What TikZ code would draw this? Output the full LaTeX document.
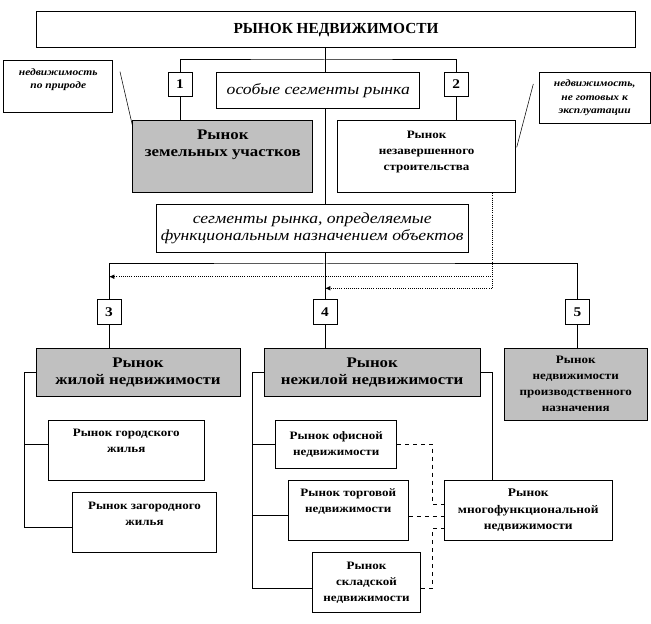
\documentclass[tikz,border=0pt]{standalone}
\usepackage{fontspec}
\setmainfont{Liberation Serif}[FakeStretch=1.15]
\newfontfamily\titlefont{Liberation Serif}
\usetikzlibrary{arrows.meta}
\definecolor{boxgray}{RGB}{192,192,192}

\tikzset{every picture/.style={line width=0.75pt}}
\tikzset{
  box/.style={draw, align=center, inner sep=1pt},
  graybox/.style={box, fill=boxgray},
  numbox/.style={box, minimum width=18pt, minimum height=18.3pt, font=\fontsize{10}{12}\selectfont\bfseries},
  notebox/.style={box, font=\fontsize{7.5}{10}\selectfont\bfseries\itshape},
  segbox/.style={box, font=\fontsize{11.5}{13.3}\selectfont\itshape},
  bigtext/.style={font=\fontsize{11}{12.75}\selectfont\bfseries},
  smalltext/.style={font=\fontsize{8.5}{12}\selectfont\bfseries},
  dotarrow/.style={densely dotted, line width=0.6pt, -{Latex[length=4pt,width=3.5pt]}},
  dashlink/.style={dashed, line width=0.6pt},
  pointer/.style={line width=0.4pt}
}

\begin{document}
\begin{tikzpicture}[x=0.75pt,y=0.75pt,yscale=-1,xscale=1]
\useasboundingbox (0,0) rectangle (651,624);

%Title
\node [box, minimum width=449.25pt, minimum height=27pt, font=\titlefont\fontsize{11.5}{13}\selectfont\bfseries] (title) at (336,30) {РЫНОК НЕДВИЖИМОСТИ};

%Special segments
\node [numbox] (n1) at (180,84.5) {1};
\node [numbox] (n2) at (456.3,84.5) {2};
\node [segbox, minimum width=152.5pt, minimum height=26.9pt] (osob) at (318.3,90.4) {особые сегменты рынка};
\node [graybox, bigtext, minimum width=135.2pt, minimum height=54.4pt, text depth=19.5pt] (zem) at (222.8,156.3) {Рынок\\земельных участков};
\node [box, smalltext, minimum width=133.7pt, minimum height=54.4pt, text depth=8pt] (nezav) at (426.6,156.5) {Рынок\\незавершенного\\строительства};

%Notes
\node [notebox, minimum width=81.5pt, minimum height=39.2pt, text depth=11pt] (noteL) at (58.3,86.2) {недвижимость\\по природе};
\node [notebox, minimum width=83pt, minimum height=38.25pt] (noteR) at (594.7,97.8) {недвижимость,\\не готовых к\\эксплуатации};

%Functional segments
\node [segbox, minimum width=234.2pt, minimum height=36pt] (func) at (312.2,228.3) {сегменты рынка, определяемые\\функциональным назначением объектов};
\node [numbox] (n3) at (109,312.2) {3};
\node [numbox] (n4) at (325,312.2) {4};
\node [numbox] (n5) at (577.5,312.2) {5};
\node [graybox, bigtext, minimum width=153pt, minimum height=35.8pt] (zhil) at (138,372.2) {Рынок\\жилой недвижимости};
\node [graybox, bigtext, minimum width=161.8pt, minimum height=35.8pt] (nezhil) at (372.2,372.2) {Рынок\\нежилой недвижимости};
\node [graybox, smalltext, minimum width=107.25pt, minimum height=54pt] (prom) at (575.8,384.3) {Рынок\\недвижимости\\производственного\\назначения};

%Residential
\node [box, smalltext, minimum width=116.8pt, minimum height=44.8pt, text depth=14pt] (gor) at (126.2,450.2) {Рынок городского\\жилья};
\node [box, smalltext, minimum width=108.3pt, minimum height=45pt, text depth=13pt] (zagor) at (144.5,522.3) {Рынок загородного\\жилья};

%Non-residential
\node [box, smalltext, minimum width=90.5pt, minimum height=36pt] (ofis) at (336.3,444.3) {Рынок офисной\\недвижимости};
\node [box, smalltext, minimum width=90pt, minimum height=45.2pt, text depth=14pt] (torg) at (348.3,510.2) {Рынок торговой\\недвижимости};
\node [box, smalltext, minimum width=81.3pt, minimum height=45pt] (sklad) at (366.5,582.3) {Рынок\\складской\\недвижимости};
\node [box, font=\fontsize{8.75}{12.5}\selectfont\bfseries, minimum width=126pt, minimum height=45.2pt] (multi) at (528.3,510.2) {Рынок\\многофункциональной\\недвижимости};

%Bend points
\coordinate (bar1) at (325,60);
\coordinate (bar2) at (325,264);
\coordinate (d1) at (109,276.7);
\coordinate (d2) at (325,288.3);
\coordinate (dx) at (492.5,0);
\coordinate (lz1) at (24.3,444.3);
\coordinate (lz2) at (24.3,527.7);
\coordinate (ln1) at (252.3,444.3);
\coordinate (ln2) at (252.3,516);
\coordinate (ln3) at (252.3,588.3);
\coordinate (rb) at (492.3,0);
\coordinate (dv1) at (432.7,504);
\coordinate (dv2) at (432.7,528.3);
\coordinate (pl) at (120,71.7);
\coordinate (plz) at (132.7,126.7);
\coordinate (pr) at (533.3,84);
\coordinate (prz) at (516.7,147.3);

%Upper tree
\draw (title.south -| bar1) -- (bar1);
\draw (n1.north) |- (bar1) -| (n2.north);
\draw (bar1) -- (osob.north -| bar1);
\draw (n1.south) -- (n1.south |- zem.north);
\draw (n2.south) -- (n2.south |- nezav.north);
\draw (osob.south -| bar1) -- (func.north -| bar1);

%Lower tree
\draw (func.south -| bar2) -- (bar2);
\draw (n3.north) |- (bar2) -| (n5.north);
\draw (bar2) -- (n4.north);
\draw (n3.south) -- (n3.south |- zhil.north);
\draw (n4.south) -- (n4.south |- nezhil.north);
\draw (n5.south) -- (n5.south |- prom.north);

%Unfinished construction links
\draw [dotarrow] (nezav.south -| dx) |- (d1);
\draw [dotarrow] (nezav.south -| dx) |- (d2);

%Residential branches
\draw (zhil.west) -| (lz2) -- (lz2 -| zagor.west);
\draw (lz1) -- (lz1 -| gor.west);

%Non-residential branches
\draw (nezhil.west) -| (ln3) -- (ln3 -| sklad.west);
\draw (ln1) -- (ln1 -| ofis.west);
\draw (ln2) -- (ln2 -| torg.west);
\draw (nezhil.east) -| (rb |- multi.north);

%Multifunctional links
\draw [dashlink] (ofis.east) -| (dv1) -- (dv1 -| multi.west);
\draw [dashlink] (ln2 -| torg.east) -- (ln2 -| multi.west);
\draw [dashlink] (ln3 -| sklad.east) -| (dv2) -- (dv2 -| multi.west);

%Notes pointers
\draw [pointer] (pl) -- (plz);
\draw [pointer] (pr) -- (prz);

\end{tikzpicture}
\end{document}
